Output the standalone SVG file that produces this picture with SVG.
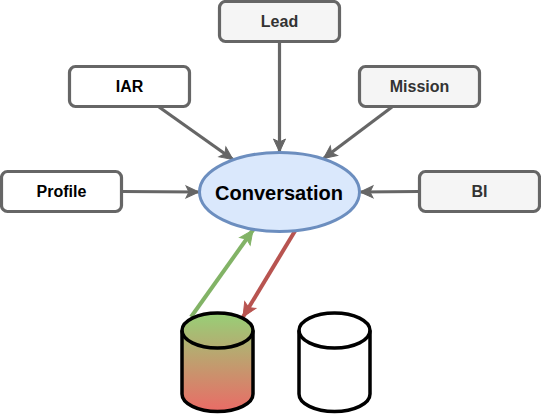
<svg xmlns="http://www.w3.org/2000/svg" width="541" height="414" viewBox="0 0 541 414">
<style>
.box{stroke:#666;stroke-width:3.2;fill:#fff}
.g{fill:#f5f5f5}
text{font-family:"Liberation Sans",Arial,sans-serif;font-weight:bold;font-size:16px;text-anchor:middle;fill:#000}
.d{fill:#333}
.cyl{stroke:#000;stroke-width:3.5;stroke-linejoin:round}
</style>
<defs>
<linearGradient id="gr" x1="0" y1="0" x2="0" y2="1"><stop offset="0" stop-color="#97d077"/><stop offset="1" stop-color="#ea6b66"/></linearGradient>
<marker id="ag" markerUnits="userSpaceOnUse" markerWidth="16" markerHeight="14" refX="14" refY="6" orient="auto" overflow="visible"><path d="M1 0L14 6L1 12L4 6Z" fill="#666" stroke="#666"/></marker>
<marker id="ab" markerUnits="userSpaceOnUse" markerWidth="18" markerHeight="16" refX="15" refY="6.500" orient="auto" overflow="visible"><path d="M1 0L15 6.500L1 13L4 6.500Z" fill="#82b366" stroke="#82b366"/></marker>
<marker id="ar" markerUnits="userSpaceOnUse" markerWidth="18" markerHeight="16" refX="15" refY="6.500" orient="auto" overflow="visible"><path d="M1 0L15 6.500L1 13L4 6.500Z" fill="#b85450" stroke="#b85450"/></marker>
</defs>
<g id="connectors">
<path d="M279.500 42V152" stroke="#666" stroke-width="3.2" fill="none" marker-end="url(#ag)"/>
<path d="M159 107L233 159.500" stroke="#666" stroke-width="3.2" fill="none" marker-end="url(#ag)"/>
<path d="M392 107L323.500 158.500" stroke="#666" stroke-width="3.2" fill="none" marker-end="url(#ag)"/>
<path d="M122 191.500L199 192" stroke="#666" stroke-width="3.2" fill="none" marker-end="url(#ag)"/>
<path d="M419 191.500L360 192" stroke="#666" stroke-width="3.2" fill="none" marker-end="url(#ag)"/>
<path d="M191 317L253 230" stroke="#82b366" stroke-width="4" fill="none" marker-end="url(#ab)"/>
<path d="M295 231L243 317" stroke="#b85450" stroke-width="4" fill="none" marker-end="url(#ar)"/>
</g>
<g id="lead"><rect class="box g" x="219.500" y="1.500" width="120" height="40" rx="6"/><text class="d" x="279.500" y="27">Lead</text></g>
<g id="iar"><rect class="box" x="69.500" y="66.500" width="120" height="40" rx="6"/><text x="129.500" y="92">IAR</text></g>
<g id="mission"><rect class="box g" x="359.500" y="66.500" width="120" height="40" rx="6"/><text class="d" x="419.500" y="92">Mission</text></g>
<g id="profile"><rect class="box" x="1.500" y="171.500" width="120" height="40" rx="6"/><text x="61.500" y="197">Profile</text></g>
<g id="bi"><rect class="box g" x="419.500" y="171.500" width="120" height="40" rx="6"/><text class="d" x="479.500" y="197">BI</text></g>
<g id="conversation"><ellipse cx="279.500" cy="192" rx="80" ry="39.500" fill="#dae8fc" stroke="#6c8ebf" stroke-width="3"/><text x="279" y="200" style="font-size:20px">Conversation</text></g>
<g id="db1"><path class="cyl" fill="url(#gr)" d="M182 330.500A35.500 17.500 0 0 1 253 330.500V394A35.500 17.500 0 0 1 182 394Z"/><path class="cyl" fill="none" d="M182 330.500A35.500 17.500 0 0 0 253 330.500"/></g>
<g id="db2"><path class="cyl" fill="#fff" d="M299 330.500A35.500 17.500 0 0 1 370 330.500V394A35.500 17.500 0 0 1 299 394Z"/><path class="cyl" fill="none" d="M299 330.500A35.500 17.500 0 0 0 370 330.500"/></g>
</svg>
